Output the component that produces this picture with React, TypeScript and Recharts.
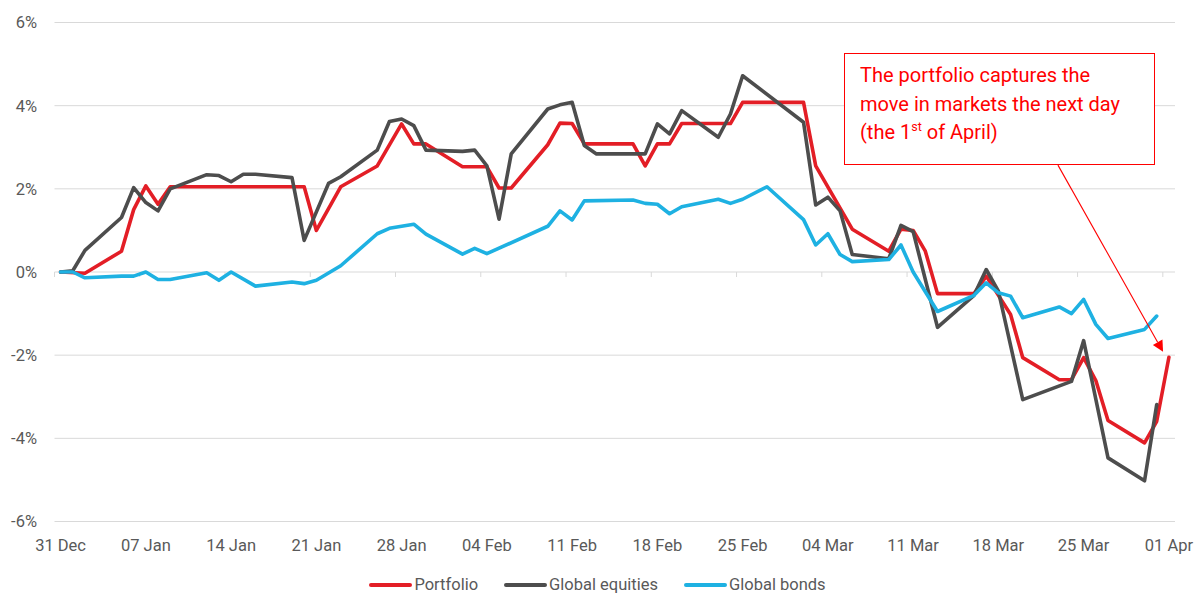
import React from 'react';
import { LineChart, Line, XAxis, YAxis, CartesianGrid, ReferenceLine } from 'recharts';

const FONT = 'Roboto, "Noto Sans", sans-serif';
const TEXT_GREY = '#595959';
const GRID = '#d9d9d9';
const RED = '#E31E26';
const DARK = '#4D4D4D';
const BLUE = '#1EB1E2';
const NOTE = '#FF0000';

// x axis: days since 31 Dec
const tickDays = [0, 7, 14, 21, 28, 35, 42, 49, 56, 63, 70, 77, 84, 91];
const tickLabels = ['31 Dec', '07 Jan', '14 Jan', '21 Jan', '28 Jan', '04 Feb', '11 Feb', '18 Feb', '25 Feb', '04 Mar', '11 Mar', '18 Mar', '25 Mar', '01 Apr'];
const yTicks = [-6, -4, -2, 0, 2, 4, 6];

// [day, cumulative return %]
const portfolio: [number, number][] = [
  [0, 0], [2, -0.03], [5, 0.5], [6, 1.5], [7, 2.07], [8, 1.63], [9, 2.05], [20, 2.05], [21, 1.0], [23, 2.05],
  [26, 2.55], [28, 3.56], [29, 3.08], [30, 3.08], [33, 2.53], [35, 2.53], [36, 2.02], [37, 2.02], [40, 3.06],
  [41, 3.58], [42, 3.57], [43, 3.08], [47, 3.08], [48, 2.55], [49, 3.08], [50, 3.08], [51, 3.57], [55, 3.57],
  [56, 4.08], [61, 4.08], [62, 2.55], [65, 1.03], [68, 0.5], [69, 1.03], [70, 1.0], [71, 0.5], [72, -0.52],
  [75, -0.52], [76, -0.1], [78, -1.02], [79, -2.06], [82, -2.59], [83, -2.59], [84, -2.06], [85, -2.61],
  [86, -3.57], [89, -4.11], [90, -3.59], [91, -2.05],
];

const equities: [number, number][] = [
  [0, 0], [1, 0.03], [2, 0.52], [5, 1.31], [6, 2.03], [7, 1.67], [8, 1.47], [9, 2.0], [12, 2.34], [13, 2.32],
  [14, 2.17], [15, 2.35], [16, 2.35], [19, 2.27], [20, 0.76], [22, 2.13], [23, 2.29], [26, 2.93], [27, 3.62],
  [28, 3.68], [29, 3.52], [30, 2.93], [33, 2.9], [34, 2.93], [35, 2.55], [36, 1.27], [37, 2.84], [40, 3.92],
  [41, 4.02], [42, 4.08], [43, 3.04], [44, 2.84], [48, 2.84], [49, 3.56], [50, 3.32], [51, 3.88], [54, 3.24],
  [55, 3.8], [56, 4.72], [61, 3.6], [62, 1.61], [63, 1.8], [64, 1.47], [65, 0.42], [68, 0.32], [69, 1.12],
  [70, 0.97], [72, -1.33], [75, -0.56], [76, 0.06], [77, -0.46], [79, -3.07], [83, -2.63], [84, -1.65],
  [86, -4.47], [89, -5.02], [90, -3.19],
];

const bonds: [number, number][] = [
  [0, 0], [1, 0], [2, -0.14], [5, -0.1], [6, -0.1], [7, 0.0], [8, -0.18], [9, -0.18], [12, -0.02], [13, -0.2],
  [14, 0.0], [16, -0.34], [19, -0.24], [20, -0.28], [21, -0.2], [23, 0.15], [26, 0.92], [27, 1.05], [28, 1.1],
  [29, 1.15], [30, 0.91], [33, 0.43], [34, 0.57], [35, 0.44], [40, 1.1], [41, 1.47], [42, 1.25], [43, 1.71],
  [47, 1.73], [48, 1.65], [49, 1.63], [50, 1.4], [51, 1.57], [54, 1.75], [55, 1.65], [56, 1.75], [58, 2.05],
  [61, 1.26], [62, 0.65], [63, 0.92], [64, 0.42], [65, 0.25], [68, 0.3], [69, 0.65], [70, 0.0], [72, -0.95],
  [75, -0.56], [76, -0.26], [77, -0.5], [78, -0.58], [79, -1.1], [82, -0.84], [83, -1.0], [84, -0.66],
  [85, -1.26], [86, -1.6], [89, -1.38], [90, -1.06],
];

const seriesDefs = [
  { key: 'portfolio', name: 'Portfolio', color: RED, values: portfolio },
  { key: 'equities', name: 'Global equities', color: DARK, values: equities },
  { key: 'bonds', name: 'Global bonds', color: BLUE, values: bonds },
];

// annotation arrow (data coordinates): from the note box to the last portfolio point
const arrowFrom = { x: 82.39, y: 2.57 };
const arrowTo = { x: 91.02, y: -1.92 };

// points sit in the middle of their day slot (date axis)
const SLOT = 0.5;

function buildData() {
  const rows = new Map<number, any>();
  seriesDefs.forEach((s) => {
    s.values.forEach(([d, v]) => {
      const r = rows.get(d) ?? { day: d + SLOT };
      r[s.key] = v;
      rows.set(d, r);
    });
  });
  return Array.from(rows.entries())
    .sort((a, b) => a[0] - b[0])
    .map((e) => e[1]);
}

const data = buildData();

const ArrowShape = (p: any) => {
  const { x1, y1, x2, y2 } = p;
  const ang = Math.atan2(y2 - y1, x2 - x1);
  const L = 11;
  const W = 5.5;
  const bx = x2 - L * Math.cos(ang);
  const by = y2 - L * Math.sin(ang);
  const px = -Math.sin(ang) * W;
  const py = Math.cos(ang) * W;
  return (
    <g>
      <line x1={x1} y1={y1} x2={bx} y2={by} stroke={NOTE} strokeWidth={1.1} />
      <polygon points={`${x2},${y2} ${bx + px},${by + py} ${bx - px},${by - py}`} fill={NOTE} />
    </g>
  );
};

export default function App() {
  return (
    <div style={{ position: 'absolute', left: 0, top: 0, width: 1195, height: 593, overflow: 'hidden', background: '#fff', fontFamily: FONT }}>
      <LineChart width={1195} height={593} data={data} margin={{ top: 22.5, right: 20, bottom: 0, left: 0 }}>
        <CartesianGrid horizontal vertical={false} stroke={GRID} strokeWidth={1} />
        <XAxis
          dataKey="day"
          type="number"
          domain={[0, 92]}
          ticks={tickDays.map((d) => d + SLOT)}
          interval={0}
          tickFormatter={(v: number) => tickLabels[tickDays.indexOf(Math.round(v - SLOT))] ?? ''}
          axisLine={false}
          tickLine={false}
          tickSize={0}
          tickMargin={17.8}
          height={71.5}
          tick={{ fill: TEXT_GREY, fontSize: 16.5, fontFamily: FONT }}
        />
        <YAxis
          type="number"
          domain={[-6, 6]}
          ticks={yTicks}
          interval={0}
          tickFormatter={(v: number) => `${v}%`}
          axisLine={false}
          tickLine={false}
          tickSize={0}
          tickMargin={17.5}
          width={54.5}
          tick={{ fill: TEXT_GREY, fontSize: 16.5, fontFamily: FONT }}
        />
        {tickDays.map((d) => (
          <ReferenceLine
            key={`tm${d}`}
            segment={[{ x: d, y: 0 }, { x: d, y: -0.12 }]}
            stroke={GRID}
            strokeWidth={1}
          />
        ))}
        {seriesDefs.map((s) => (
          <Line
            key={s.key}
            dataKey={s.key}
            name={s.name}
            type="linear"
            stroke={s.color}
            strokeWidth={3.6}
            strokeLinejoin="round"
            strokeLinecap="round"
            dot={false}
            activeDot={false}
            connectNulls
            isAnimationActive={false}
          />
        ))}
        <ReferenceLine segment={[arrowFrom, arrowTo]} shape={ArrowShape} />
      </LineChart>

      <div
        style={{
          position: 'absolute',
          left: 844,
          top: 53,
          width: 311,
          height: 112,
          boxSizing: 'border-box',
          border: `1px solid ${NOTE}`,
          background: '#fff',
          padding: '7px 0 0 15px',
          color: NOTE,
          fontSize: 20,
          lineHeight: '28.5px',
          fontFamily: FONT,
          whiteSpace: 'nowrap',
        }}
      >
        The portfolio captures the
        <br />
        move in markets the next day
        <br />
        (the 1<span style={{ fontSize: 12.5, position: 'relative', top: -8 }}>st</span> of April)
      </div>

      <div
        style={{
          position: 'absolute',
          left: 0,
          top: 575,
          width: 1195,
          height: 20,
          display: 'flex',
          justifyContent: 'center',
          alignItems: 'center',
          fontFamily: FONT,
          fontSize: 16.5,
          color: TEXT_GREY,
          lineHeight: '20px',
        }}
      >
        {seriesDefs.map((s, i) => (
          <div key={s.key} style={{ display: 'flex', alignItems: 'center', marginRight: i < seriesDefs.length - 1 ? 26 : 0 }}>
            <span style={{ display: 'inline-block', width: 43, height: 4.5, background: s.color, borderRadius: 3, marginRight: 2 }} />
            <span>{s.name}</span>
          </div>
        ))}
      </div>
    </div>
  );
}
